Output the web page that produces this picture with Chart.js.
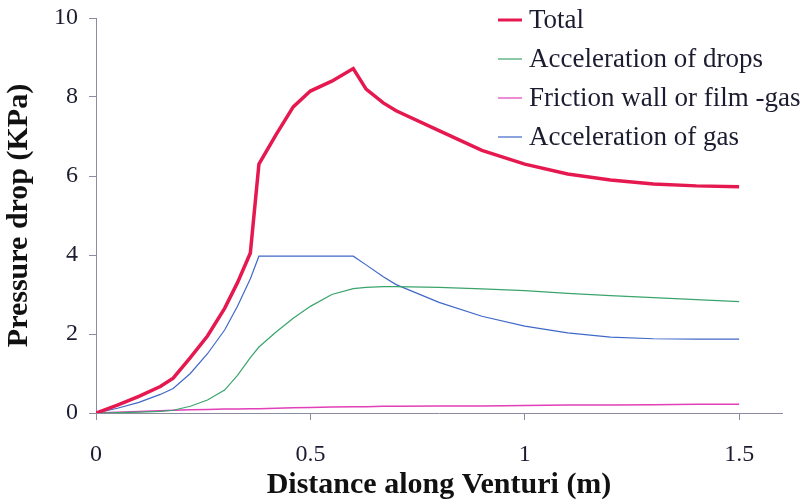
<!DOCTYPE html>
<html>
<head>
<meta charset="utf-8">
<script src="https://cdn.jsdelivr.net/npm/chart.js@4"></script>
<style>
  body { margin: 0; background: #fff; }
  #wrap { width: 803px; height: 500px; }
</style>
</head>
<body>
<div id="wrap"><canvas id="grafico" width="803" height="500"></canvas></div>
<script>
// distance along venturi (m)
const distancia = [0, 0.05, 0.1, 0.15, 0.18, 0.22, 0.26, 0.3, 0.33, 0.36, 0.38, 0.42, 0.46, 0.5, 0.55, 0.6, 0.63, 0.67, 0.7, 0.8, 0.9, 1.0, 1.1, 1.2, 1.3, 1.4, 1.5];

// pressure drop (KPa) per series
const total = [0, 0.2, 0.42, 0.67, 0.88, 1.4, 1.95, 2.65, 3.3, 4.05, 6.3, 7.05, 7.75, 8.15, 8.4, 8.72, 8.2, 7.85, 7.65, 7.15, 6.65, 6.3, 6.05, 5.9, 5.8, 5.75, 5.73];
const aceleracaoGotas = [0, 0.01, 0.02, 0.04, 0.07, 0.17, 0.33, 0.58, 0.95, 1.4, 1.67, 2.05, 2.4, 2.7, 3.0, 3.15, 3.18, 3.2, 3.2, 3.18, 3.14, 3.1, 3.03, 2.97, 2.92, 2.87, 2.82];
const atrito = [0, 0.02, 0.04, 0.06, 0.07, 0.08, 0.09, 0.1, 0.1, 0.11, 0.11, 0.12, 0.13, 0.14, 0.15, 0.16, 0.16, 0.17, 0.17, 0.18, 0.18, 0.19, 0.2, 0.2, 0.21, 0.22, 0.22];
const aceleracaoGas = [0, 0.12, 0.27, 0.47, 0.62, 1.0, 1.5, 2.1, 2.7, 3.4, 3.97, 3.97, 3.97, 3.97, 3.97, 3.97, 3.75, 3.45, 3.25, 2.8, 2.45, 2.2, 2.03, 1.92, 1.88, 1.87, 1.87];

const nomes = ["Total", "Acceleration of drops", "Friction wall or film -gas", "Acceleration of gas"];
const cores = ["#e5194f", "#3aa46c", "#e23fb8", "#4068c8"];
const espessuras = [3.5, 1.2, 1.5, 1.2];
const xTicks = [0, 0.5, 1, 1.5];
const yTicks = [0, 2, 4, 6, 8, 10];

const series = [total, aceleracaoGotas, atrito, aceleracaoGas];
const corTexto = "#1c1c30";
const corEixo = "#8c8ca0";
const fonte = "'Liberation Serif', 'Times New Roman', serif";

// legenda desenhada dentro da area do grafico
const legendaInterna = {
  id: "legendaInterna",
  afterDraw(chart) {
    const c = chart.ctx;
    c.save();
    c.font = "27px " + fonte;
    c.textBaseline = "middle";
    nomes.forEach((nome, i) => {
      const y = 20 + i * 39;
      c.strokeStyle = cores[i];
      c.lineWidth = i === 0 ? 3 : 1.2;
      c.beginPath();
      c.moveTo(498, y);
      c.lineTo(522, y);
      c.stroke();
      c.fillStyle = corTexto;
      c.fillText(nome, 529, y + 1);
    });
    c.restore();
  },
};

const datasets = series.map((s, i) => ({
  label: nomes[i],
  data: distancia.map((x, j) => ({ x: x, y: s[j] })),
  borderColor: cores[i],
  backgroundColor: cores[i],
  borderWidth: espessuras[i],
  pointRadius: 0,
  tension: 0,
  order: i === 0 ? 0 : 1,
}));

new Chart(document.getElementById("grafico"), {
  type: "line",
  data: { datasets: datasets },
  options: {
    responsive: false,
    animation: false,
    layout: { padding: { top: 18, right: 21, left: -4, bottom: 0 } },
    scales: {
      x: {
        type: "linear",
        min: 0,
        max: 1.6,
        afterBuildTicks: (axis) => { axis.ticks = xTicks.map((v) => ({ value: v })); },
        afterFit: (axis) => { axis.height = 87; },
        grid: { display: true, drawOnChartArea: false, drawTicks: true, tickLength: 7, color: corEixo },
        border: { color: corEixo, width: 1 },
        ticks: { color: corTexto, font: { family: fonte, size: 24, lineHeight: 1 }, padding: 23, maxRotation: 0, callback: (v) => String(v) },
        title: { display: true, text: "Distance along Venturi (m)", color: "#111", font: { family: fonte, size: 30, weight: "bold", lineHeight: 1 }, padding: { top: 0, bottom: 0 } },
      },
      y: {
        min: 0,
        max: 10,
        afterBuildTicks: (axis) => { axis.ticks = yTicks.map((v) => ({ value: v })); },
        afterFit: (axis) => { axis.paddingTop = 0; },
        grid: { display: true, drawOnChartArea: false, drawTicks: true, tickLength: 7, color: corEixo },
        border: { color: corEixo, width: 1 },
        ticks: { color: corTexto, font: { family: fonte, size: 24, lineHeight: 1 }, padding: 11, callback: (v) => String(v) },
        title: { display: true, text: "Pressure drop (KPa)", color: "#111", font: { family: fonte, size: 30, weight: "bold" }, padding: { top: 5, bottom: 6 } },
      },
    },
    plugins: {
      legend: { display: false },
      tooltip: { enabled: false },
    },
  },
  plugins: [legendaInterna],
});
</script>
</body>
</html>
